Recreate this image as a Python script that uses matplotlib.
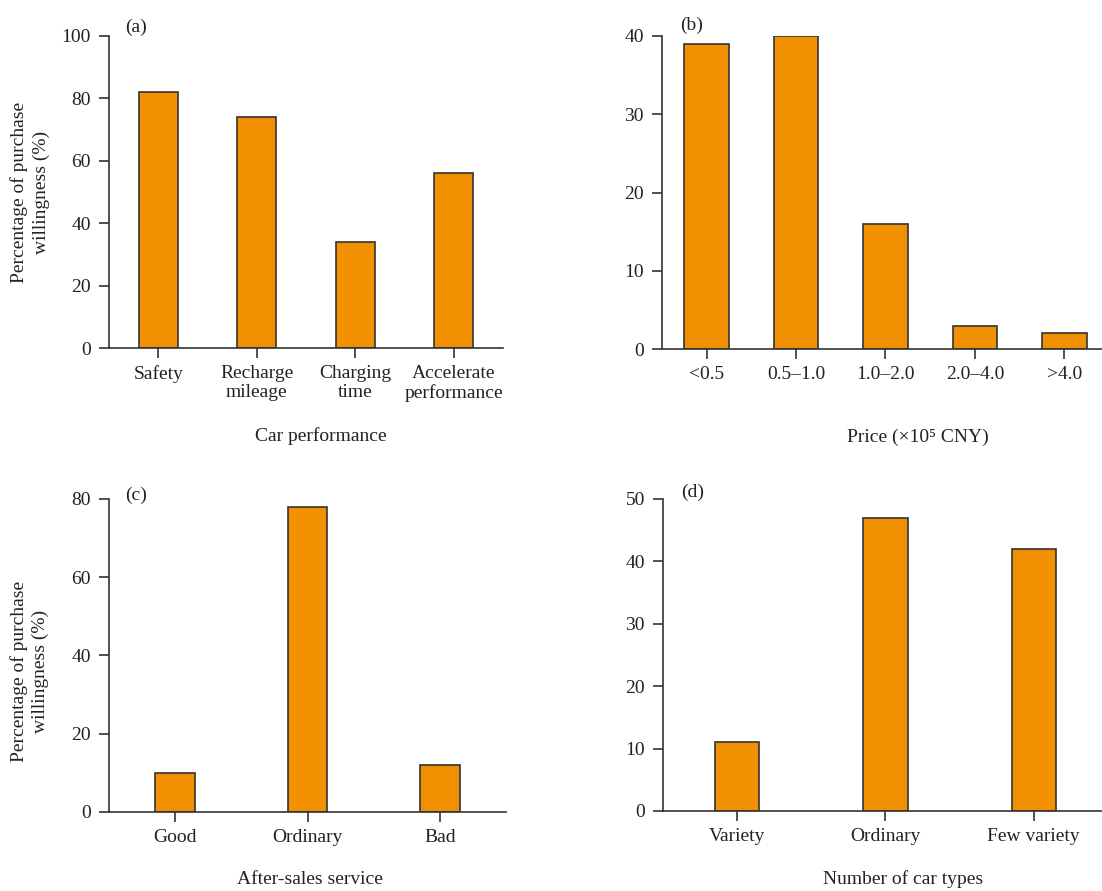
import matplotlib
matplotlib.use('Agg')
import matplotlib.pyplot as plt

plt.rcParams['font.family'] = ['Liberation Serif', 'DejaVu Serif']
plt.rcParams['font.size'] = 14

# data
perf_cats = ['Safety', 'Recharge\nmileage', 'Charging\ntime', 'Accelerate\nperformance']
perf_vals = [82, 74, 34, 56]

price_cats = ['<0.5', '0.5\u20131.0', '1.0\u20132.0', '2.0\u20134.0', '>4.0']
price_vals = [39, 40, 16, 3, 2]

service_cats = ['Good', 'Ordinary', 'Bad']
service_vals = [10, 78, 12]

types_cats = ['Variety', 'Ordinary', 'Few variety']
types_vals = [11, 47, 42]

bar_col = '#F19000'
edge_col = '#333333'
ylab = 'Percentage of purchase\nwillingness (%)'

fig = plt.figure(figsize=(11.02, 8.91), dpi=100)

# (cats, vals, ylim, yticks, width, axes rect, xlabel, xlabel pos, tag, tag y, ylabel pos)
panels = [
    (perf_cats, perf_vals, 100, range(0, 101, 20), 0.4,
     [0.0989, 0.6094, 0.3575, 0.3502], 'Car performance', (0.538, -0.255), '(a)', 1.027, (-0.20, 0.5)),
    (price_cats, price_vals, 40, range(0, 41, 10), 0.5,
     [0.6007, 0.6083, 0.4056, 0.3513], 'Price (\u00d710\u2075 CNY)', (0.573, -0.255), '(b)', 1.035, None),
    (service_cats, service_vals, 80, range(0, 81, 20), 0.3,
     [0.0989, 0.0887, 0.3603, 0.3513], 'After-sales service', (0.506, -0.19), '(c)', 1.013, (-0.20, 0.45)),
    (types_cats, types_vals, 50, range(0, 51, 10), 0.3,
     [0.6016, 0.0898, 0.4038, 0.3502], 'Number of car types', (0.539, -0.19), '(d)', 1.022, None),
]

for cats, vals, ymax, yt, w, rect, xl, xlpos, tag, tagy, ylpos in panels:
    ax = fig.add_axes(rect)
    x = range(len(cats))
    ax.bar(x, vals, width=w, color=bar_col, edgecolor=edge_col, linewidth=1.2)
    ax.set_xlim(-0.5, len(cats) - 0.5)
    ax.set_ylim(0, ymax)
    ax.set_yticks(list(yt))
    ax.set_xticks(list(x))
    ax.set_xticklabels(cats, linespacing=1.2)
    for s in ['top', 'right']:
        ax.spines[s].set_visible(False)
    for s in ['left', 'bottom']:
        ax.spines[s].set_color(edge_col)
        ax.spines[s].set_linewidth(1.2)
    ax.tick_params(axis='both', direction='out', length=7, width=1.2,
                   color=edge_col, labelcolor='#222222', labelsize=14)
    ax.tick_params(axis='y', pad=6)
    ax.tick_params(axis='x', pad=5)
    ax.set_xlabel(xl, fontsize=14, color='#222222')
    ax.xaxis.set_label_coords(*xlpos)
    if ylpos is not None:
        ax.set_ylabel(ylab, fontsize=14, color='#222222', va='center', linespacing=1.35)
        ax.yaxis.set_label_coords(*ylpos)
    ax.text(0.04, tagy, tag, transform=ax.transAxes, ha='left', va='center',
            fontsize=14, color='#222222')

fig.savefig('out.png', dpi=100)
